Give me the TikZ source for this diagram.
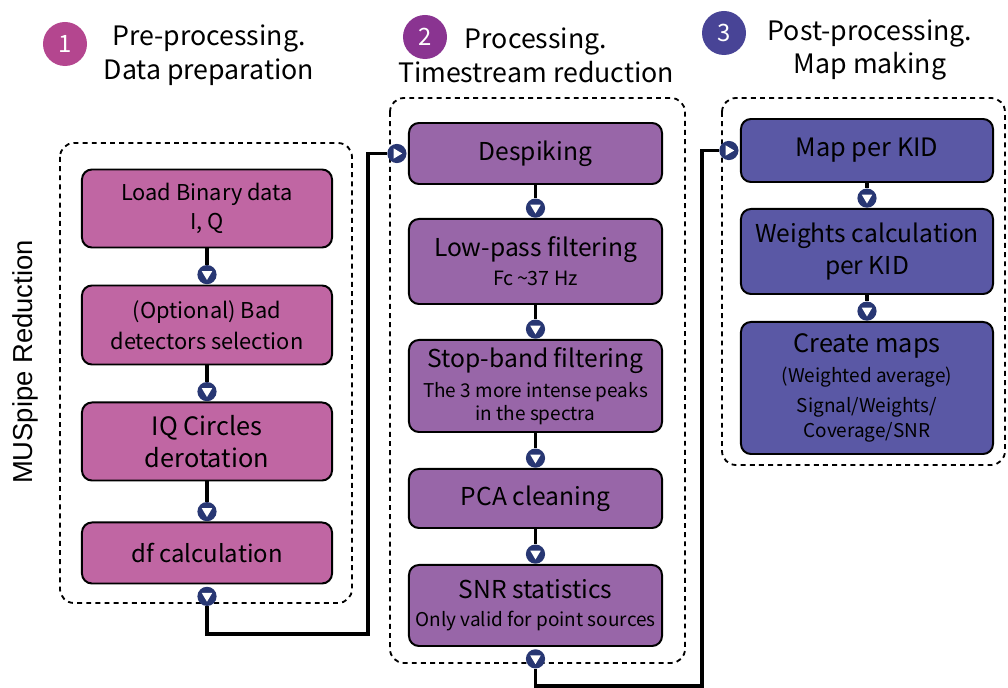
\documentclass[tikz,border=0pt]{standalone}
\usepackage{fontspec}
\setmainfont{Noto Sans CJK JP}
\newfontfamily\sidefont{Liberation Sans}
\usepackage{tikz}
\usetikzlibrary{positioning, arrows.meta}
\definecolor{prefill}{HTML}{C066A3}
\definecolor{procfill}{HTML}{9866A8}
\definecolor{postfill}{HTML}{5A58A5}
\definecolor{precirc}{HTML}{B4468F}
\definecolor{proccirc}{HTML}{8A3491}
\definecolor{postcirc}{HTML}{484496}
\definecolor{mknavy}{HTML}{283773}
\tikzset{
  stagebox/.style={
    rectangle, rounded corners=0.25cm, draw=black, line width=1.4pt,
    align=center, text centered, font=\fontsize{17.5}{22}\selectfont
  },
  prebox/.style={stagebox, fill=prefill, minimum width=6.25cm},
  procbox/.style={stagebox, fill=procfill, minimum width=6.325cm},
  postbox/.style={stagebox, fill=postfill, minimum width=6.3cm},
  stagegroup/.style={
    draw=black, line width=1.3pt, rounded corners=0.35cm,
    dash pattern=on 3.5pt off 3pt
  },
  link/.style={draw=black, line width=2.2pt},
  markdown/.style={
    circle, fill=mknavy, minimum size=0.48cm, inner sep=0pt,
    path picture={\fill[white]
      ([xshift=-3.7pt,yshift=2.4pt]path picture bounding box.center) --
      ([xshift=3.7pt,yshift=2.4pt]path picture bounding box.center) --
      ([yshift=-3.8pt]path picture bounding box.center) -- cycle;}
  },
  markright/.style={
    circle, fill=mknavy, minimum size=0.48cm, inner sep=0pt,
    path picture={\fill[white]
      ([xshift=-2.4pt,yshift=3.7pt]path picture bounding box.center) --
      ([xshift=-2.4pt,yshift=-3.7pt]path picture bounding box.center) --
      ([xshift=3.8pt]path picture bounding box.center) -- cycle;}
  },
  stepnum/.style={
    circle, minimum size=1.1cm, inner sep=0pt, text=white,
    font=\fontsize{17}{17}\selectfont
  },
  headtxt/.style={align=center, font=\fontsize{19}{24}\selectfont}
}
\newcommand{\subline}{\fontsize{13.5}{16.5}\selectfont}

\begin{document}
\begin{tikzpicture}[x=0.025cm, y=-0.025cm]
\useasboundingbox (0,0) rectangle (1008,688);

% dashed stage frames
\draw[stagegroup] (60,143) rectangle (352,603);
\draw[stagegroup] (390,98) rectangle (685,663);
\draw[stagegroup] (722,98) rectangle (1005,465);

% headers
\node[stepnum, fill=precirc] (num1) at (65,44) {1};
\node[headtxt] (head1) at (209,55) {Pre-processing.\\Data preparation};
\node[stepnum, fill=proccirc] (num2) at (425,37) {2};
\node[headtxt] (head2) at (536,55) {Processing.\\Timestream reduction};
\node[stepnum, fill=postcirc] (num3) at (724,33) {3};
\node[headtxt] (head3) at (870,50) {Post-processing.\\Map making};

\node[rotate=90, font=\sidefont\fontsize{19.5}{19.5}\selectfont] (side) at (25,362) {MUSpipe Reduction};

% pre-processing
\node[prebox, minimum height=1.95cm, font=\fontsize{15.5}{21}\selectfont] (load) at (207,208.5) {Load Binary data\\I, Q};
\node[prebox, minimum height=1.975cm, font=\fontsize{15.5}{22}\selectfont, below=0.9cm of load] (baddet) {(Optional) Bad\\detectors selection};
\node[prebox, minimum height=1.95cm, font=\fontsize{18}{23}\selectfont, below=0.9cm of baddet] (iqcirc) {IQ Circles\\derotation};
\node[prebox, minimum height=1.525cm, font=\fontsize{17}{22}\selectfont, below=1.0cm of iqcirc] (dfcalc) {df calculation};

\node[markdown, above=0pt of baddet] (mk12) {};
\node[markdown, above=0pt of iqcirc] (mk13) {};
\node[markdown, above=0pt of dfcalc] (mk14) {};
\node[markdown, below=0.05cm of dfcalc] (out1) {};

\draw[link] (load) -- (mk12);
\draw[link] (baddet) -- (mk13);
\draw[link] (iqcirc) -- (mk14);

% processing
\node[procbox, minimum height=1.525cm] (despike) at (535.5,153.5) {Despiking};
\node[procbox, minimum height=2.125cm, font=\fontsize{17.5}{20.5}\selectfont, below=0.825cm of despike] (lowpass) {Low-pass filtering\\\fontsize{14}{18}\selectfont Fc\,\textasciitilde37 Hz};
\node[procbox, minimum height=2.3cm, font=\fontsize{17.5}{16.5}\selectfont, below=0.85cm of lowpass] (stopband) {Stop-band filtering\\[5pt]\subline The 3 more intense peaks\\\subline in the spectra};
\node[procbox, minimum height=1.475cm, below=0.875cm of stopband] (pca) {PCA cleaning};
\node[procbox, minimum height=2.025cm, font=\fontsize{17.5}{20}\selectfont, below=0.875cm of pca] (snr) {SNR statistics\\\subline Only valid for point sources};

\node[markright, left=0.03cm of despike] (in2) {};
\node[markdown, above=0pt of lowpass] (mk22) {};
\node[markdown, above=0pt of stopband] (mk23) {};
\node[markdown, above=0pt of pca] (mk24) {};
\node[markdown, above=0pt of snr] (mk25) {};
\node[markdown, below=0.05cm of snr] (out2) {};

\draw[link] (despike) -- (mk22);
\draw[link] (lowpass) -- (mk23);
\draw[link] (stopband) -- (mk24);
\draw[link] (pca) -- (mk25);

% post-processing
\node[postbox, minimum height=1.575cm, font=\fontsize{18}{22}\selectfont] (mapkid) at (867,150.5) {Map per KID};
\node[postbox, minimum height=2.125cm, font=\fontsize{17.5}{23}\selectfont, below=0.625cm of mapkid] (weights) {Weights calculation\\per KID};
\node[postbox, minimum height=3.3cm, font=\fontsize{18}{17.5}\selectfont, below=0.65cm of weights] (create) {Create maps\\[3.5pt]\subline (Weighted average)\\[4pt]\subline Signal/Weights/\\\subline Coverage/SNR};

\node[markright, left=0.03cm of mapkid] (in3) {};
\node[markdown, above=0pt of weights] (mk32) {};
\node[markdown, above=0pt of create] (mk33) {};

\draw[link] (mapkid) -- (mk32);
\draw[link] (weights) -- (mk33);

% stage links
\coordinate (turn1) at (368,634);
\coordinate (turn2) at (702,686);
\draw[link] (out1) |- (turn1) |- (in2);
\draw[link] (out2) |- (turn2) |- (in3);

\end{tikzpicture}
\end{document}
